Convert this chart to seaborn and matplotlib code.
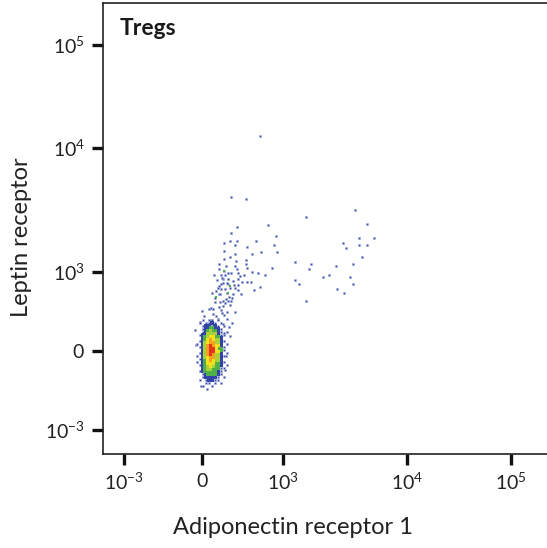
import matplotlib
matplotlib.use("Agg")
import matplotlib.pyplot as plt
import seaborn as sns
import numpy as np
import pandas as pd

# ---------------- data (channel units of the transformed display scale) -------------
x_tick_pos = [21, 99, 180, 304, 408]
x_tick_labels = [r"$10^{-3}$", r"$0$", r"$10^{3}$", r"$10^{4}$", r"$10^{5}$"]
y_tick_pos = [24, 103, 182, 306, 409]
y_tick_labels = [r"$10^{-3}$", r"$0$", r"$10^{3}$", r"$10^{4}$", r"$10^{5}$"]

# sparse events (blue)
sparse_x = [252, 203, 264, 256, 271, 240, 256, 264, 243, 259, 192, 208, 250, 206, 233, 220, 226, 247,
            192, 196, 250, 234, 241, 203,
            128, 143, 165, 134, 128, 173, 121, 127, 134, 153, 144, 132, 171, 158, 149, 132, 174,
            121, 127, 143, 143, 144, 169, 116, 121, 125, 134, 155, 162, 157, 151, 139, 144, 148, 157,
            123, 132, 118, 122, 128, 135, 141, 149, 120, 125, 130, 135, 118, 120, 116, 125, 135,
            132, 115, 118, 122, 127, 135, 116, 124, 130, 123, 112, 125, 128, 120,
            122, 116, 120, 101, 110, 113, 119, 121, 124, 108, 115, 124, 97, 104, 120, 113,
            112, 127, 132, 129, 126, 121, 127, 93, 94, 122, 98, 104, 123, 92, 114, 117, 108, 99,
            110, 117, 126, 131, 137, 113, 119, 129, 111, 106, 118, 138, 124, 109, 116, 133, 121]
sparse_y = [244, 237, 230, 216, 216, 211, 209, 209, 206, 197, 192, 190, 190, 185, 188, 177, 179, 177,
            174, 170, 170, 165, 161, 153,
            257, 255, 229, 227, 221, 218, 211, 213, 213, 213, 207, 209, 209, 202, 200, 200, 202,
            195, 197, 194, 190, 186, 186, 185, 183, 181, 185, 181, 179, 167, 164, 172, 172, 172, 318,
            188, 188, 179, 179, 181, 181, 179, 182, 175, 175, 173, 175, 170, 171, 168, 170, 169,
            166, 166, 165, 165, 166, 164, 160, 161, 160, 155, 156, 153, 153, 153,
            151, 147, 148, 138, 140, 138, 141, 139, 142, 134, 135, 135, 132, 130, 130, 126,
            152, 149, 142, 131, 127, 121, 118, 109, 92, 84, 68, 65, 98, 124, 174, 160, 146, 143,
            145, 152, 157, 169, 178, 163, 176, 156, 179, 145, 144, 160, 171, 161, 190, 193, 203]

# a few sparse events in slightly denser spots (green)
green_x = [113, 121, 125, 127]
green_y = [157, 183, 161, 168]

# main population: density level per cell (0 empty ... 7 highest)
blob_x = [93.5, 96.5, 99.5, 102.5, 105.5, 108.5, 111.5, 114.5, 117.5, 120.5, 123.5]
blob_y = [134.5 - 3 * j for j in range(23)]
blob_level = [
    [0, 0, 1, 0, 1, 1, 0, 1, 0, 0, 0],
    [0, 1, 0, 1, 1, 2, 1, 0, 1, 0, 0],
    [0, 0, 1, 2, 2, 1, 2, 1, 0, 1, 0],
    [0, 0, 1, 2, 2, 3, 2, 2, 1, 0, 0],
    [0, 0, 1, 2, 3, 4, 3, 2, 1, 0, 1],
    [0, 1, 2, 2, 4, 4, 4, 2, 1, 1, 0],
    [0, 0, 2, 3, 4, 5, 5, 3, 2, 0, 0],
    [0, 1, 2, 3, 5, 6, 5, 4, 2, 1, 0],
    [1, 0, 2, 4, 5, 6, 6, 4, 2, 0, 1],
    [0, 1, 2, 4, 6, 7, 6, 5, 2, 1, 0],
    [0, 0, 2, 4, 6, 7, 7, 5, 3, 1, 0],
    [0, 1, 2, 4, 6, 7, 7, 5, 2, 0, 1],
    [1, 0, 2, 4, 6, 7, 6, 4, 2, 1, 0],
    [0, 1, 2, 4, 5, 6, 6, 4, 2, 0, 0],
    [0, 0, 2, 3, 5, 6, 5, 4, 2, 1, 0],
    [0, 1, 2, 3, 5, 5, 5, 3, 2, 0, 1],
    [0, 0, 2, 3, 4, 5, 4, 3, 1, 1, 0],
    [0, 1, 2, 3, 4, 4, 3, 2, 1, 0, 0],
    [0, 0, 1, 2, 3, 3, 3, 2, 1, 0, 0],
    [0, 0, 1, 2, 2, 2, 2, 1, 0, 1, 0],
    [0, 1, 0, 1, 2, 2, 1, 1, 0, 0, 0],
    [0, 0, 0, 1, 1, 0, 1, 0, 1, 0, 0],
    [0, 0, 1, 0, 0, 1, 0, 0, 0, 0, 0],
]

level_colors = {1: "#3444a6", 2: "#3444a6", 3: "#4fb04a", 4: "#a9d13a",
                5: "#f1e21f", 6: "#f5a01f", 7: "#e6331f"}

# ---------------- figure ----------------
sns.set_style("white")
plt.rcParams["font.family"] = ["Lato", "DejaVu Sans"]
plt.rcParams["mathtext.fontset"] = "custom"
plt.rcParams["mathtext.rm"] = "Lato"
plt.rcParams["mathtext.it"] = "Lato:italic"
plt.rcParams["mathtext.bf"] = "Lato:bold"

W, H = 547, 548
fig = plt.figure(figsize=(W / 100, H / 100), dpi=100)
ax = fig.add_axes([103 / W, 94 / H, 444 / W, 451 / H])
ax.set_xlim(0, 444)
ax.set_ylim(0, 451)

rows = []
for j, yv in enumerate(blob_y):
    for i, xv in enumerate(blob_x):
        lv = blob_level[j][i]
        if lv > 0:
            rows.append({"x": xv, "y": yv, "level": lv})
blob_df = pd.DataFrame(rows)
dense = blob_df[blob_df["level"] >= 3]
mid = blob_df[blob_df["level"] == 2]
light = blob_df[blob_df["level"] == 1]

sparse_df = pd.DataFrame({"x": sparse_x, "y": sparse_y})
green_df = pd.DataFrame({"x": green_x, "y": green_y})

sns.scatterplot(data=sparse_df, x="x", y="y", ax=ax, marker="s", s=4.5,
                color=level_colors[1], linewidth=0.4, edgecolor="#aab2de", legend=False)
sns.scatterplot(data=light, x="x", y="y", ax=ax, marker="s", s=4.5,
                color=level_colors[1], linewidth=0.4, edgecolor="#aab2de", legend=False)
sns.scatterplot(data=mid, x="x", y="y", ax=ax, marker="s", s=8,
                color=level_colors[2], linewidth=0, legend=False)
sns.scatterplot(data=dense, x="x", y="y", hue="level", palette=level_colors, ax=ax,
                marker="s", s=10, linewidth=0, legend=False)
sns.scatterplot(data=green_df, x="x", y="y", ax=ax, marker="s", s=4.5,
                color=level_colors[3], linewidth=0, legend=False)

ax.set_xticks(x_tick_pos)
ax.set_xticklabels(x_tick_labels)
ax.set_yticks(y_tick_pos)
ax.set_yticklabels(y_tick_labels)
ax.tick_params(axis="both", which="major", direction="out", length=8, width=2.4,
               color="#111111", labelsize=14, labelcolor="#222222", pad=5,
               bottom=True, left=True)
ax.set_xlabel("")
ax.set_ylabel("")
for side in ["left", "bottom", "top"]:
    ax.spines[side].set_visible(True)
    ax.spines[side].set_color("#222222")
    ax.spines[side].set_linewidth(1.2)
ax.spines["right"].set_visible(False)

ax.text(17, 419, "Tregs", fontsize=16.5, fontweight="bold", color="#1a1a1a",
        ha="left", va="baseline")

fig.text(293 / W, 1 - 527 / H, "Adiponectin receptor 1", fontsize=17, color="#222222",
         ha="center", va="center")
fig.text(22 / W, 1 - 237 / H, "Leptin receptor", fontsize=17, color="#222222",
         ha="center", va="center", rotation=90)

fig.savefig("out.png", dpi=100)
